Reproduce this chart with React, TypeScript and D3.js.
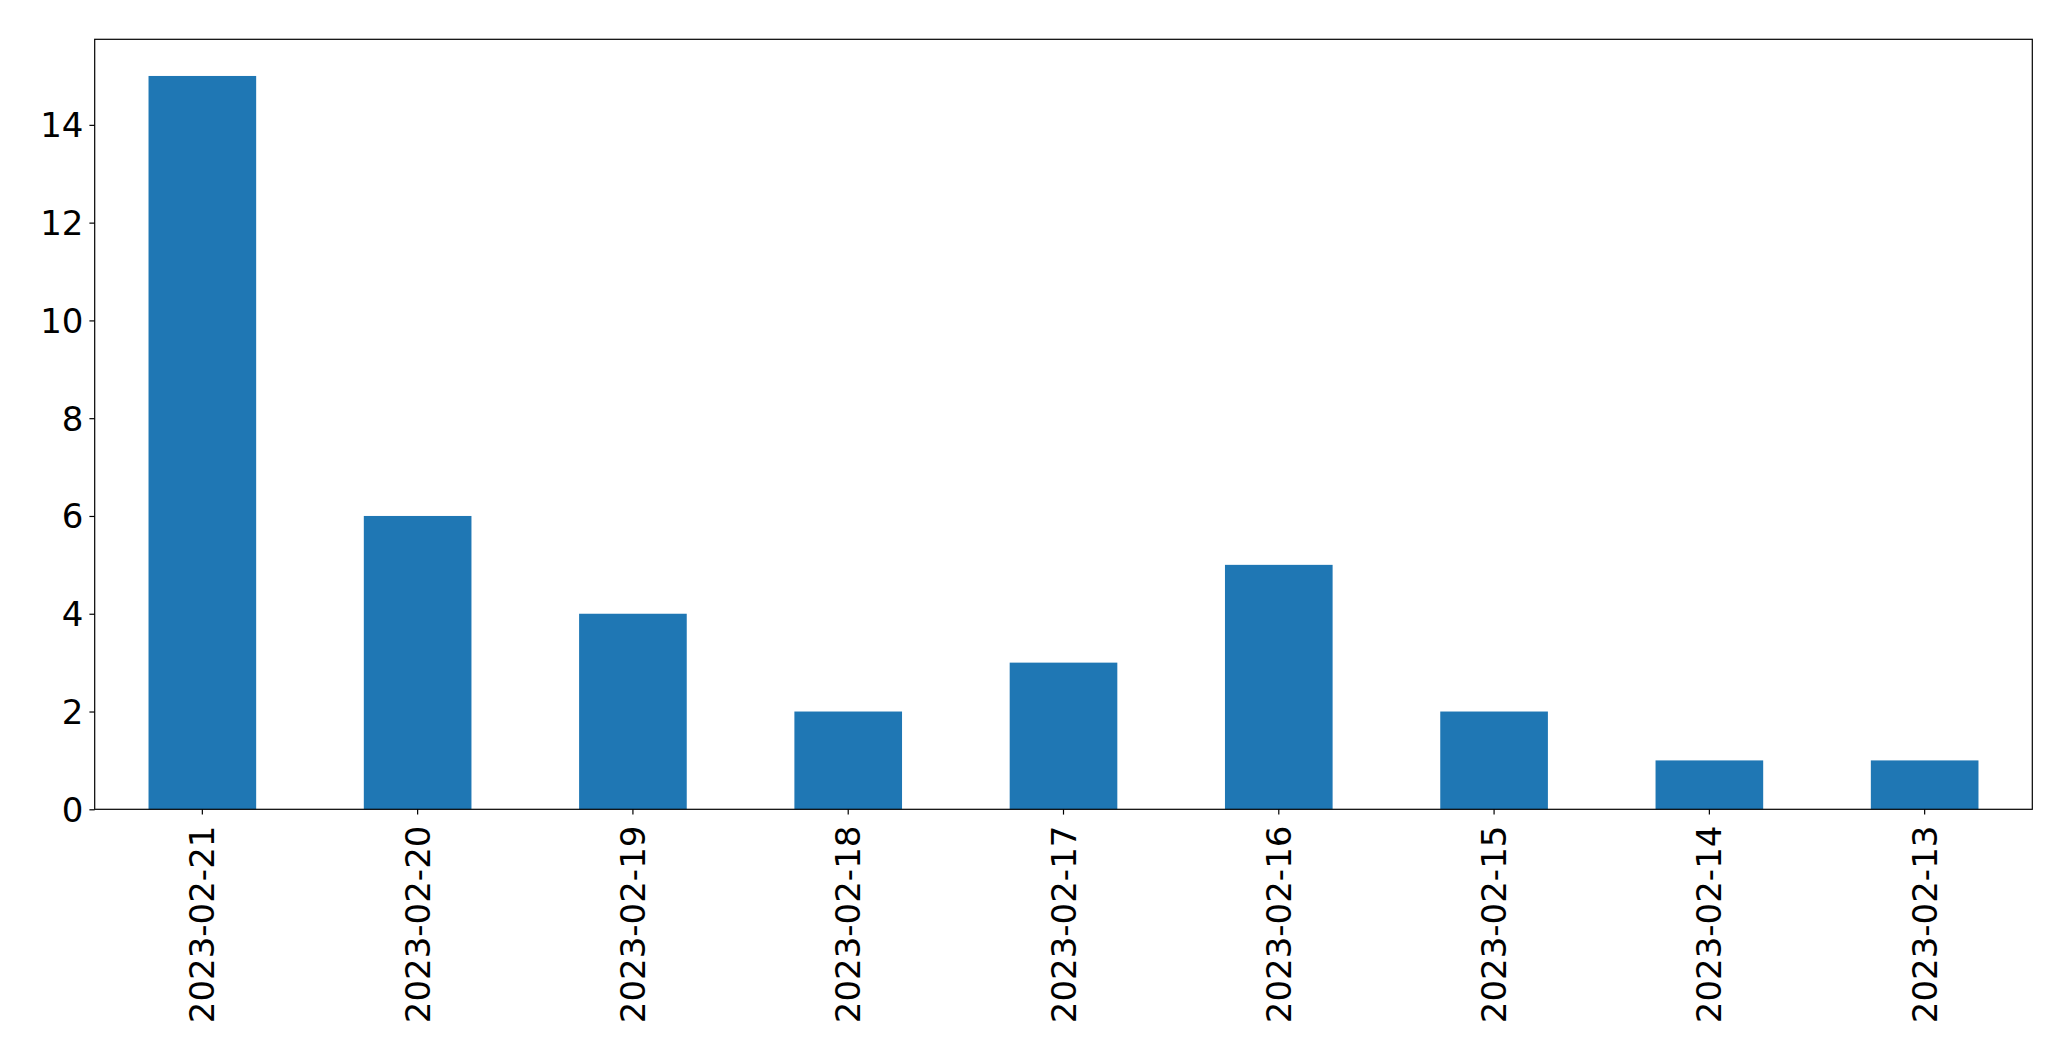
import React, {useEffect, useRef} from 'react';
import * as d3 from 'd3';

const dates = [
    "2023-02-21", "2023-02-20", "2023-02-19", "2023-02-18", "2023-02-17",
    "2023-02-16", "2023-02-15", "2023-02-14", "2023-02-13",
];
const counts = [15, 6, 4, 2, 3, 5, 2, 1, 1];
const yTicks = [0, 2, 4, 6, 8, 10, 12, 14];

const App = () => {
    const ref = useRef<SVGSVGElement>(null);

    useEffect(() => {
        document.body.style.margin = "0";

        const width = 2071;
        const height = 1061;
        const margin = {top: 39.3, right: 2071 - 2032.3, bottom: 1061 - 809.3, left: 94.7};
        const fontSize = 34;
        const tickLen = 5.3;

        const svg = d3.select(ref.current);
        svg.selectAll("*").remove();
        svg.attr("width", width).attr("height", height);

        svg.append("rect").attr("width", width).attr("height", height).attr("fill", "white");

        // matplotlib-style band: xlim -0.5..n-0.5, bar width 0.5
        const x = d3.scaleBand<string>()
            .domain(dates)
            .range([margin.left, width - margin.right])
            .paddingInner(0.5)
            .paddingOuter(0.25);

        const y = d3.scaleLinear()
            .domain([0, 15.75])
            .range([height - margin.bottom, margin.top]);

        // Bars
        svg.append("g")
            .selectAll("rect")
            .data(counts)
            .join("rect")
            .attr("x", (d, i) => x(dates[i])!)
            .attr("width", x.bandwidth())
            .attr("y", d => y(d))
            .attr("height", d => y(0) - y(d))
            .attr("fill", "#1f77b4");

        const font = "'DejaVu Sans', sans-serif";

        // Y axis
        const yAxis = svg.append("g")
            .attr("transform", `translate(${margin.left},0)`)
            .call(d3.axisLeft(y).tickValues(yTicks).tickSize(tickLen).tickPadding(6).tickFormat(d3.format("d")));
        yAxis.select(".domain").remove();
        yAxis.selectAll("line").attr("stroke", "black").attr("stroke-width", 1.2);
        yAxis.selectAll("text")
            .attr("font-family", font)
            .attr("font-size", fontSize)
            .attr("fill", "black")
            .attr("dy", "0.35em");

        // X axis
        const xAxis = svg.append("g")
            .attr("transform", `translate(0,${height - margin.bottom})`)
            .call(d3.axisBottom(x).tickSize(tickLen).tickPadding(0));
        xAxis.select(".domain").remove();
        xAxis.selectAll("line").attr("stroke", "black").attr("stroke-width", 1.2);
        xAxis.selectAll("text")
            .attr("font-family", font)
            .attr("font-size", fontSize)
            .attr("fill", "black")
            .attr("text-anchor", "end")
            .attr("y", 0)
            .attr("dy", 0)
            .attr("dominant-baseline", "central")
            .attr("transform", `translate(0,${tickLen + 11}) rotate(-90)`);

        // Frame
        svg.append("rect")
            .attr("x", margin.left)
            .attr("y", margin.top)
            .attr("width", width - margin.left - margin.right)
            .attr("height", height - margin.top - margin.bottom)
            .attr("fill", "none")
            .attr("stroke", "black")
            .attr("stroke-width", 1.2);
    }, []);

    return <svg ref={ref} style={{display: "block"}}></svg>;
};

export default App;
